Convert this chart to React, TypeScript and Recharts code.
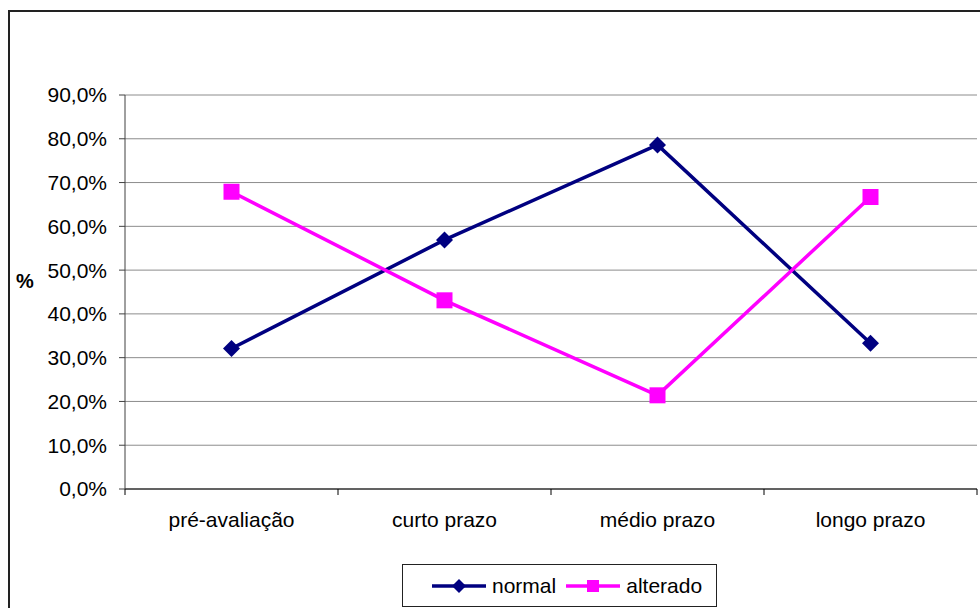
import { CartesianGrid, Label, Line, LineChart, XAxis, YAxis } from "recharts";

const categories = ["pré-avaliação", "curto prazo", "médio prazo", "longo prazo"];
const normalValues = [32.1, 56.9, 78.6, 33.3];
const alteradoValues = [67.9, 43.1, 21.4, 66.7];
const yTicks = [0, 10, 20, 30, 40, 50, 60, 70, 80, 90];

const NAVY = "#000080";
const MAGENTA = "#ff00ff";
const FONT = '"Liberation Sans", Arial, sans-serif';
const FS = 21;

const CHART_W = 972;
const CHART_H = 592;
const MARGIN = { top: 87, right: 3, bottom: 51, left: 0 };
const Y_AXIS_W = 117;
const TICK_SIZE = 6;
const TICK_MARGIN = 17;
const BAND = (CHART_W - MARGIN.left - MARGIN.right - Y_AXIS_W) / categories.length;

const data = categories.map((label, i) => ({
  label,
  normal: normalValues[i],
  alterado: alteradoValues[i],
}));

const fmtPct = (v: number) => `${v.toFixed(1).replace(".", ",")}%`;

// category label plus the small ticks on the band edges (excel style)
function CatTick({ x, y, payload, index }: any) {
  const axisY = y - TICK_SIZE - TICK_MARGIN;
  const left = x - BAND / 2;
  const right = x + BAND / 2;
  return (
    <g>
      <line x1={left} y1={axisY} x2={left} y2={axisY + TICK_SIZE} stroke="#000" />
      {index === categories.length - 1 && (
        <line x1={right} y1={axisY} x2={right} y2={axisY + TICK_SIZE} stroke="#000" />
      )}
      <text x={x} y={y} dy="0.71em" textAnchor="middle" fill="#000" fontSize={FS} fontFamily={FONT}>
        {payload.value}
      </text>
    </g>
  );
}

function Diamond({ cx, cy, r = 8.5, fill }: { cx?: number; cy?: number; r?: number; fill: string }) {
  if (cx == null || cy == null) return null;
  return (
    <polygon
      points={`${cx},${cy - r} ${cx + r},${cy} ${cx},${cy + r} ${cx - r},${cy}`}
      fill={fill}
    />
  );
}

function Square({ cx, cy, s = 8, fill }: { cx?: number; cy?: number; s?: number; fill: string }) {
  if (cx == null || cy == null) return null;
  return <rect x={cx - s} y={cy - s} width={s * 2} height={s * 2} fill={fill} />;
}

function LegendItem({ color, marker, text }: { color: string; marker: "diamond" | "square"; text: string }) {
  return (
    <div style={{ display: "flex", alignItems: "center" }}>
      <svg width={54} height={20}>
        <line x1={0} y1={10} x2={54} y2={10} stroke={color} strokeWidth={3.5} />
        {marker === "diamond" ? (
          <Diamond cx={27} cy={10} r={7} fill={color} />
        ) : (
          <Square cx={27} cy={10} s={6} fill={color} />
        )}
      </svg>
      <span style={{ marginLeft: 6 }}>{text}</span>
    </div>
  );
}

export default function App() {
  return (
    <div
      style={{
        position: "fixed",
        left: 0,
        top: 0,
        width: 980,
        height: 608,
        overflow: "hidden",
        fontFamily: FONT,
        background: "#fff",
      }}
    >
      <div
        style={{
          position: "absolute",
          left: 8,
          top: 10,
          width: 1000,
          height: 1000,
          border: "2px solid #222",
          boxSizing: "border-box",
        }}
      />
      <div style={{ position: "absolute", left: 8, top: 8 }}>
        <LineChart width={CHART_W} height={CHART_H} data={data} margin={MARGIN}>
          <CartesianGrid vertical={false} stroke="#8c8c8c" />
          <XAxis
            dataKey="label"
            scale="band"
            interval={0}
            tickLine={false}
            axisLine={{ stroke: "#000" }}
            tickSize={TICK_SIZE}
            tickMargin={TICK_MARGIN}
            height={60}
            tick={<CatTick />}
          />
          <YAxis
            domain={[0, 90]}
            ticks={yTicks}
            interval={0}
            width={Y_AXIS_W}
            tickFormatter={fmtPct}
            tickSize={6}
            tickMargin={12}
            axisLine={{ stroke: "#404040" }}
            tickLine={{ stroke: "#404040" }}
            tick={{ fill: "#000", fontSize: FS, fontFamily: FONT }}
          >
            <Label
              value="%"
              position="insideLeft"
              offset={8}
              dy={-11}
              style={{ fontWeight: "bold", fontSize: 20, fill: "#000", fontFamily: FONT }}
            />
          </YAxis>
          <Line
            type="linear"
            dataKey="normal"
            name="normal"
            stroke={NAVY}
            strokeWidth={3.5}
            dot={(p: any) => <Diamond key={`n${p.index}`} cx={p.cx} cy={p.cy} fill={NAVY} />}
            activeDot={false}
            isAnimationActive={false}
          />
          <Line
            type="linear"
            dataKey="alterado"
            name="alterado"
            stroke={MAGENTA}
            strokeWidth={3.5}
            dot={(p: any) => <Square key={`a${p.index}`} cx={p.cx} cy={p.cy} fill={MAGENTA} />}
            activeDot={false}
            isAnimationActive={false}
          />
        </LineChart>
      </div>
      <div
        style={{
          position: "absolute",
          left: 402,
          top: 564,
          width: 315,
          height: 43,
          border: "1.5px solid #222",
          boxSizing: "border-box",
          display: "flex",
          alignItems: "center",
          paddingLeft: 29,
          fontSize: FS,
          color: "#000",
          gap: 10,
        }}
      >
        <LegendItem color={NAVY} marker="diamond" text="normal" />
        <LegendItem color={MAGENTA} marker="square" text="alterado" />
      </div>
    </div>
  );
}
